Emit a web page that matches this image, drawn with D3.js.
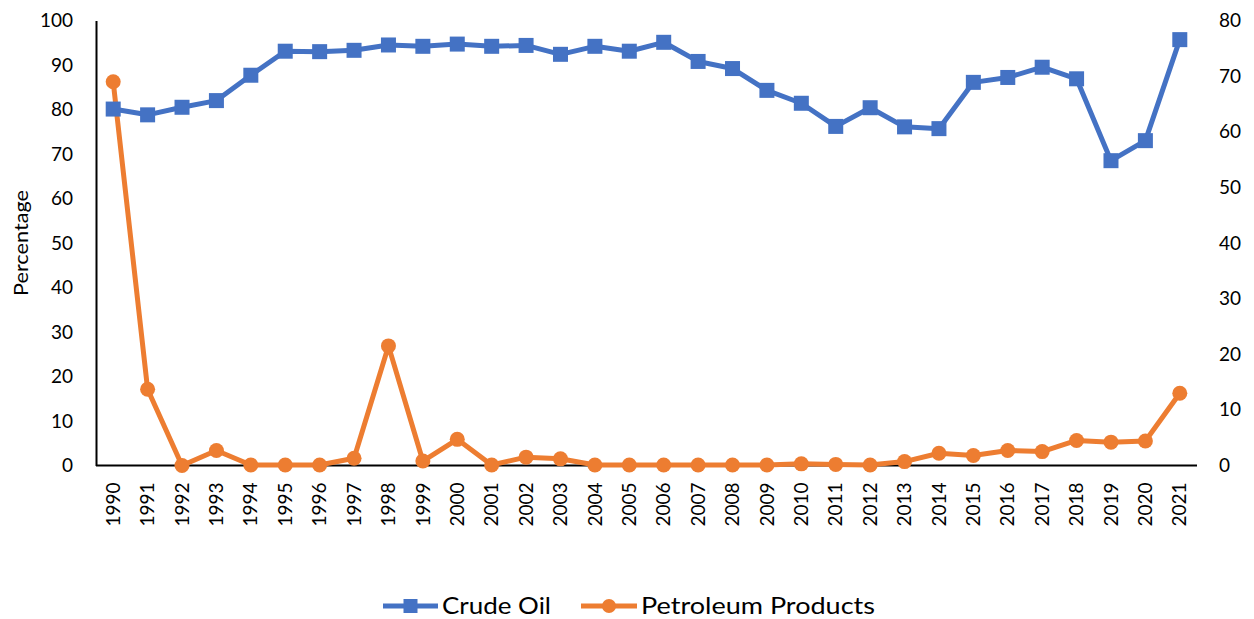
<!DOCTYPE html>
<html><head><meta charset="utf-8">
<script src="https://cdn.jsdelivr.net/npm/d3@7"></script>
<style>body{margin:0;background:#fff;} svg{display:block;font-family:Lato, "Open Sans", sans-serif;}</style>
</head><body>
<svg id="c" width="1254" height="619"></svg>
<script>
const years = ["1990","1991","1992","1993","1994","1995","1996","1997","1998","1999","2000","2001","2002","2003","2004","2005","2006","2007","2008","2009","2010","2011","2012","2013","2014","2015","2016","2017","2018","2019","2020","2021"];
const crudeOil = [80.1,78.8,80.5,82.0,87.7,93.1,93.0,93.3,94.5,94.2,94.7,94.2,94.4,92.4,94.2,93.1,95.1,90.8,89.2,84.3,81.4,76.2,80.4,76.1,75.7,86.1,87.2,89.5,86.9,68.5,73.0,95.7];
const petroleumProducts = [69.0,13.7,0.0,2.7,0.1,0.1,0.1,1.3,21.5,0.8,4.7,0.1,1.5,1.2,0.1,0.1,0.1,0.1,0.1,0.1,0.3,0.2,0.1,0.7,2.2,1.8,2.7,2.5,4.5,4.2,4.4,13.0];
const leftTicks = [0,10,20,30,40,50,60,70,80,90,100];
const rightTicks = [0,10,20,30,40,50,60,70,80];
const seriesNames = ["Crude Oil","Petroleum Products"];

const svg = d3.select("#c");
const m = {l:96, r:1197, t:20.5, b:465.5};
const x = d3.scaleBand().domain(years).range([m.l, m.r]);
const yL = d3.scaleLinear().domain([0,100]).range([m.b, m.t]);
const yR = d3.scaleLinear().domain([0,80]).range([m.b, m.t]);
const blue = "#4472C4", orange = "#ED7D31";

// left axis
const gl = svg.append("g").attr("transform",`translate(${m.l},0)`)
  .call(d3.axisLeft(yL).tickValues(leftTicks).tickSize(0).tickPadding(23));
gl.select(".domain").attr("stroke","#000").attr("stroke-width",2);
gl.selectAll("text").attr("font-size",19).attr("fill","#000").attr("font-family","Lato");

// right axis
const gr = svg.append("g").attr("transform",`translate(${m.r},0)`)
  .call(d3.axisRight(yR).tickValues(rightTicks).tickSize(0).tickPadding(22));
gr.select(".domain").remove();
gr.selectAll("text").attr("font-size",19).attr("fill","#000").attr("font-family","Lato");

// bottom axis
const gb = svg.append("g").attr("transform",`translate(0,${m.b})`)
  .call(d3.axisBottom(x).tickSize(0).tickSizeOuter(0));
gb.select(".domain").attr("stroke","#000").attr("stroke-width",2).attr("d",`M${m.l},0H${m.r}`);
gb.selectAll("text").attr("font-size",19).attr("fill","#000").attr("font-family","Lato")
  .attr("transform","rotate(-90)").attr("text-anchor","end").attr("dx",-17).attr("dy","0.35em").attr("y",0).attr("x",0);

// y label
svg.append("text").attr("transform","translate(28,243) rotate(-90)").attr("text-anchor","middle")
  .attr("font-size",19).attr("fill","#000").attr("textLength",106).attr("lengthAdjust","spacingAndGlyphs").text("Percentage");

const cx = d => x(d) + x.bandwidth()/2;

// orange line
svg.append("path").datum(petroleumProducts.map((v,i)=>[years[i],v]))
  .attr("fill","none").attr("stroke",orange).attr("stroke-width",5).attr("stroke-linejoin","round")
  .attr("d", d3.line().x(d=>cx(d[0])).y(d=>yR(d[1])));
svg.append("g").selectAll("circle").data(petroleumProducts).join("circle")
  .attr("cx",(d,i)=>cx(years[i])).attr("cy",d=>yR(d)).attr("r",7.5).attr("fill",orange);

// blue line
svg.append("path").datum(crudeOil.map((v,i)=>[years[i],v]))
  .attr("fill","none").attr("stroke",blue).attr("stroke-width",5).attr("stroke-linejoin","round")
  .attr("d", d3.line().x(d=>cx(d[0])).y(d=>yL(d[1])));
svg.append("g").selectAll("rect").data(crudeOil).join("rect")
  .attr("x",(d,i)=>cx(years[i])-7.5).attr("y",d=>yL(d)-7.5).attr("width",15).attr("height",15).attr("fill",blue);

// legend
const ly = 606;
const leg = svg.append("g");
leg.append("line").attr("x1",383).attr("x2",438).attr("y1",ly).attr("y2",ly).attr("stroke",blue).attr("stroke-width",5);
leg.append("rect").attr("x",403.5).attr("y",ly-7).attr("width",14).attr("height",14).attr("fill",blue);
leg.append("text").attr("x",442).attr("y",ly).attr("dy","0.35em").attr("font-size",24).attr("fill","#000")
  .attr("textLength",109).attr("lengthAdjust","spacingAndGlyphs").text(seriesNames[0]);
leg.append("line").attr("x1",581).attr("x2",637).attr("y1",ly).attr("y2",ly).attr("stroke",orange).attr("stroke-width",5);
leg.append("circle").attr("cx",609).attr("cy",ly).attr("r",7).attr("fill",orange);
leg.append("text").attr("x",641).attr("y",ly).attr("dy","0.35em").attr("font-size",24).attr("fill","#000")
  .attr("textLength",234).attr("lengthAdjust","spacingAndGlyphs").text(seriesNames[1]);
</script>
</body></html>
